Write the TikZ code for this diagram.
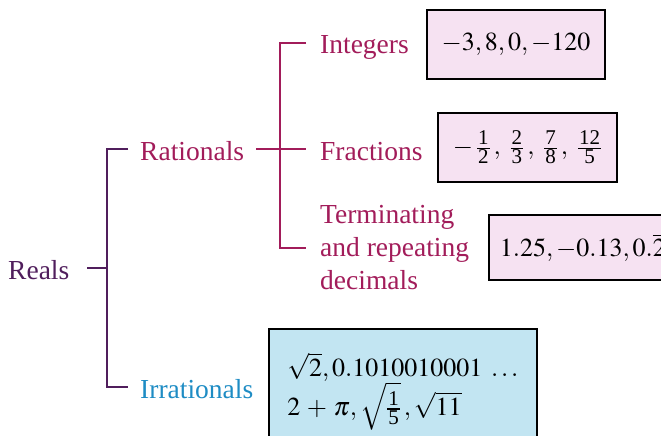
\documentclass[tikz,border=0pt]{standalone}
\usepackage{mathptmx}
\usepackage{fontspec}
\setmainfont{Liberation Serif}
\newfontfamily\lblfont{Liberation Serif}
\usetikzlibrary{positioning}

\definecolor{realcol}{RGB}{80,30,92}
\definecolor{ratcol}{RGB}{162,28,90}
\definecolor{irrcol}{RGB}{30,140,196}
\definecolor{ratfill}{RGB}{246,226,242}
\definecolor{irrfill}{RGB}{194,229,242}

% small fraction with fixed digit size
\newcommand{\smfr}[2]{\frac{\hbox{\lblfont\fontsize{21}{21}\selectfont\kern1pt#1\kern1pt}}{\hbox{\lblfont\fontsize{21}{21}\selectfont\kern1pt#2\kern1pt}}}

\begin{document}
\begin{tikzpicture}[
    x=1pt, y=-1pt,
    font=\lblfont\fontsize{27.5}{33}\selectfont,
    lbl/.style={
        inner sep=0pt,
        anchor=west,
        text height=22pt,
        text depth=0pt,
        text=#1
    },
    multilbl/.style={
        inner sep=0pt,
        anchor=west,
        align=left,
        text=#1
    },
    numbox/.style={
        draw=black,
        line width=1.8pt,
        fill=#1,
        font=\lblfont\fontsize{26}{31}\selectfont
    },
    branch/.style={
        draw=#1,
        line width=2.6pt
    }
]
\useasboundingbox (0,0) rectangle (661,436);

% ---- Labels of the tree ----
\node[lbl=realcol]  (reals) at (8,268)   {Reals};
\node[lbl=ratcol]   (rat)   at (140,149) {Rationals};
\node[lbl=irrcol]   (irr)   at (140,387) {Irrationals};

\node[lbl=ratcol]   (int)   at (320,43)  {Integers};
\node[lbl=ratcol]   (frac)  at (320,149) {Fractions};
\node[multilbl=ratcol] (dec) at (320,248) {Terminating\\and repeating\\decimals};

% ---- Example boxes ----
\node[numbox=ratfill, minimum width=178pt, minimum height=69pt] (intbox) at (516,44.5)
    {$-3, 8, 0, -120$};
\node[numbox=ratfill, minimum width=179pt, minimum height=69pt] (fracbox) at (527.5,147.5)
    {$-\,\smfr{1}{2}\,,\;\smfr{2}{3}\,,\;\smfr{7}{8}\,,\;\smfr{12}{5}$};
\node[numbox=ratfill, anchor=west, inner xsep=11pt, minimum height=65pt] (decbox) at (488,247.5)
    {$1.25, {-0.13}, 0.\overline{2}$};
\node[numbox=irrfill, anchor=north west, minimum width=268pt, minimum height=125pt, align=left] (irrbox) at (268,328)
    {$\sqrt{2}, 0.1010010001\;\ldots$\\$2\,+\,\pi, \sqrt{\smfr{1}{5}}\,, \sqrt{11}$};

% ---- Brackets ----
\coordinate (rspine) at ([xshift=-33pt]rat.west);
\coordinate (qspine) at ([xshift=-40pt]frac.west);

\draw[branch=realcol] ([xshift=18pt]reals.east) -- (rspine |- reals.east);
\draw[branch=realcol] ([xshift=-12pt]rat.west) -- (rspine) |- ([xshift=-12pt]irr.west);

\draw[branch=ratcol] ([xshift=12pt]rat.east) -- ([xshift=-14pt]frac.west);
\draw[branch=ratcol] ([xshift=-14pt]int.west) -- (qspine |- int.west)
    -- (qspine |- dec.west) -- ([xshift=-14pt]dec.west);

\end{tikzpicture}
\end{document}
